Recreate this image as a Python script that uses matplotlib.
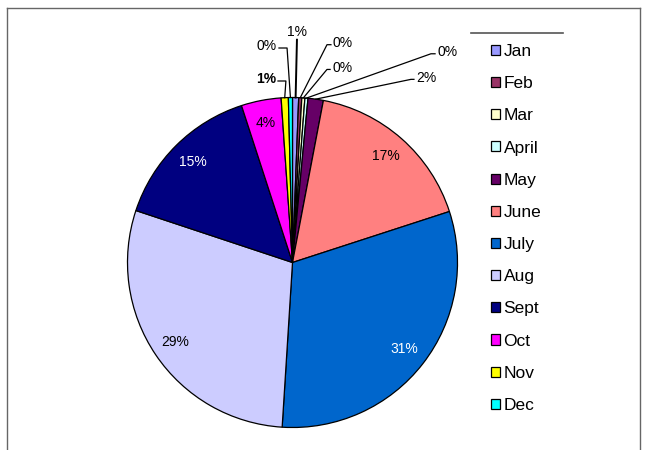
import matplotlib
matplotlib.use("Agg")
import matplotlib.pyplot as plt
import numpy as np
from matplotlib.lines import Line2D

plt.rcParams['font.family'] = ['Liberation Sans', 'DejaVu Sans']

# data (percent of the year)
months = ['Jan', 'Feb', 'Mar', 'April', 'May', 'June',
          'July', 'Aug', 'Sept', 'Oct', 'Nov', 'Dec']
shares = [0.6, 0.3, 0.3, 0.3, 1.5, 17.0, 31.0, 29.1, 14.9, 3.9, 0.7, 0.4]
colors = ['#9999FF', '#993366', '#FFFFCC', '#CCFFFF', '#660066', '#FF8080',
          '#0066CC', '#CCCCFF', '#000080', '#FF00FF', '#FFFF00', '#00FFFF']
white_text = ['July', 'Sept']

# callout spots for the thin slices: text pos, alignment, elbow x
callouts = {
    'Jan': ((0.03, 1.40), 'center', None),
    'Feb': ((0.245, 1.33), 'left', 0.209),
    'Mar': ((0.24, 1.18), 'left', 0.209),
    'April': ((0.876, 1.275), 'left', 0.839),
    'May': ((0.748, 1.12), 'left', 0.718),
    'Dec': ((-0.094, 1.31), 'right', -0.033),
    'Nov': ((-0.10, 1.11), 'right', -0.04),
}

fig = plt.figure(figsize=(6.48, 4.5), dpi=100)
ax = fig.add_axes([0, 0, 1, 1])

wedges, _ = ax.pie(shares, colors=colors, startangle=90, counterclock=False,
                   radius=1.0, wedgeprops=dict(edgecolor='black', linewidth=0.9))

# one data unit = 165 px, pie centre at (292, 262) px
ax.set_xlim(-292.5 / 165, (648 - 292.5) / 165)
ax.set_ylim((262.5 - 450) / 165, 262.5 / 165)
ax.set_aspect('auto')
ax.axis('off')

for w, name, v in zip(wedges, months, shares):
    mid = np.deg2rad((w.theta1 + w.theta2) / 2)
    label = f"{v:.0f}%"
    if name in callouts:
        (tx, ty), ha, ex = callouts[name]
        edge = (np.cos(mid), np.sin(mid))
        weight = 'bold' if name == 'Nov' else 'normal'
        if ex is None:
            ax.text(tx, ty, label, ha='center', va='center', fontsize=10)
            ax.plot([edge[0], tx - 0.003], [edge[1], ty - 0.05], color='black', lw=1.4)
        else:
            ax.text(tx, ty, label, ha=ha, va='center', fontsize=10, fontweight=weight)
            end = tx - 0.012 if ha == 'left' else tx + 0.012
            ax.plot([edge[0], ex, end], [edge[1], ty - 0.01, ty - 0.01],
                    color='black', lw=0.9)
    else:
        r = 0.86
        ax.text(r * np.cos(mid), r * np.sin(mid), label, ha='center', va='center',
                fontsize=10, color='white' if name in white_text else 'black')

# legend on the right, only its top rule shows
leg = fig.legend(wedges, months, loc='upper left', bbox_to_anchor=(491 / 648, 1 - 44 / 450),
                 frameon=False, fontsize=12.5, handlelength=0.52, handleheight=0.52,
                 handletextpad=0.2, labelspacing=0.99, borderaxespad=0, borderpad=0)
fig.add_artist(Line2D([471 / 648, 563 / 648], [1 - 33 / 450, 1 - 33 / 450],
                      color='#555555', lw=1.2))

# outer frame (bottom edge is cut off)
frame = '#666666'
fig.add_artist(Line2D([7 / 648, 640 / 648], [1 - 8 / 450, 1 - 8 / 450], color=frame, lw=1))
fig.add_artist(Line2D([7 / 648, 7 / 648], [0, 1 - 8 / 450], color=frame, lw=1))
fig.add_artist(Line2D([640 / 648, 640 / 648], [0, 1 - 8 / 450], color=frame, lw=1))

fig.savefig('out.png', dpi=100)
